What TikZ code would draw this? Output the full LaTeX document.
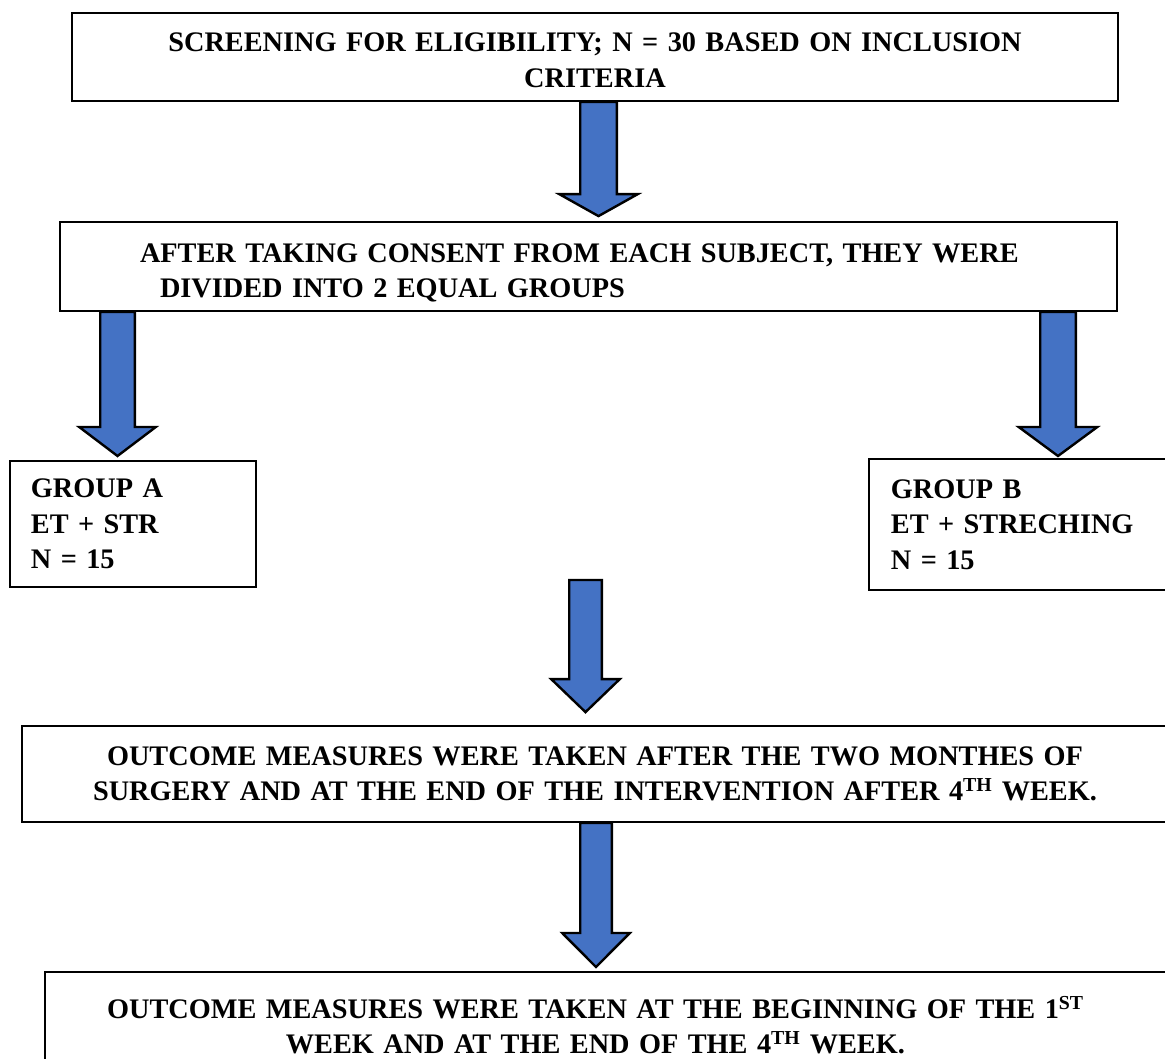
\documentclass[tikz,border=0pt]{standalone}
\usepackage{fontspec}
\setmainfont{Liberation Serif}
\usepackage{tikz}
\usetikzlibrary{calc}
\definecolor{arrowblue}{HTML}{4472C4}
\newcommand{\boxfont}{\fontsize{28.3}{35.4}\selectfont\bfseries}
\tikzstyle{box} = [draw, rectangle, fill=white, line width=1.8pt,
    font=\boxfont, inner ysep=0pt]
\tikzstyle{fatarrow} = [draw=black, fill=arrowblue, line width=2.4pt, line join=miter]
\newcommand{\blockarrow}[5]{%
    \filldraw [fatarrow] let \p1=#1, \p2=#2 in
        (\x1-#3,\y1) -- (\x1+#3,\y1) -- (\x1+#3,\y2+#5) -- (\x1+#4,\y2+#5)
        -- (\x1,\y2) -- (\x1-#4,\y2+#5) -- (\x1-#3,\y2+#5) -- cycle;}

\begin{document}
\begin{tikzpicture}[x=1pt, y=-1pt]
    \clip (0,0) rectangle (1165,1059);
    \node [box, minimum width=1046pt, minimum height=88pt, text width=1000pt, align=center] (screen) at (595,57)
        {\rule{0pt}{25pt}SCREENING FOR ELIGIBILITY; N = 30 BASED ON INCLUSION\\ CRITERIA};
    \node [box, minimum width=1057pt, minimum height=89pt, text width=897pt, inner xsep=80pt, align=left] (consent) at (588.5,266.5)
        {\rule{0pt}{31pt}AFTER TAKING CONSENT FROM EACH SUBJECT, THEY WERE\\ \hspace*{20pt}DIVIDED INTO 2 EQUAL GROUPS};
    \node [box, anchor=north west, minimum height=126pt, text width=204pt, inner xsep=21pt, align=left] (grpA) at (9,460)
        {GROUP A\\ ET + STR\\ N = 15};
    \node [box, anchor=north west, minimum height=131pt, text width=300pt, inner xsep=22pt, align=left] (grpB) at (868,458)
        {GROUP B\\ ET + STRECHING\\ N = 15};
    \coordinate (merge) at (585.5,580);
    \node [box, minimum width=1146pt, minimum height=96pt, text width=1100pt, align=center] (outcome) at (595,774)
        {OUTCOME MEASURES WERE TAKEN AFTER THE TWO MONTHES OF\\ SURGERY AND AT THE END OF THE INTERVENTION AFTER 4\textsuperscript{TH} WEEK.};
    \node [box, anchor=north west, minimum width=1131pt, minimum height=106pt, text width=1080pt, align=center] (final) at (44,971)
        {OUTCOME MEASURES WERE TAKEN AT THE BEGINNING OF THE 1\textsuperscript{ST}\makebox[30pt]{}\\
         WEEK AND AT THE END OF THE 4\textsuperscript{TH} WEEK.\makebox[30pt]{}};

    \blockarrow{([xshift=3.5pt]screen.south)}{([yshift=5pt]consent.north)}{18.3pt}{39.3pt}{22pt}
    \blockarrow{([xshift=-471pt]consent.south)}{([yshift=4pt]grpA.north)}{17.3pt}{38.3pt}{29pt}
    \blockarrow{([xshift=469.5pt]consent.south)}{([yshift=2pt]grpB.north)}{17.8pt}{39.3pt}{29pt}
    \blockarrow{(merge)}{([yshift=13pt]outcome.north)}{16.3pt}{34.3pt}{33pt}
    \blockarrow{([xshift=1pt]outcome.south)}{([yshift=4pt]final.north)}{15.8pt}{33.8pt}{34pt}
\end{tikzpicture}
\end{document}
